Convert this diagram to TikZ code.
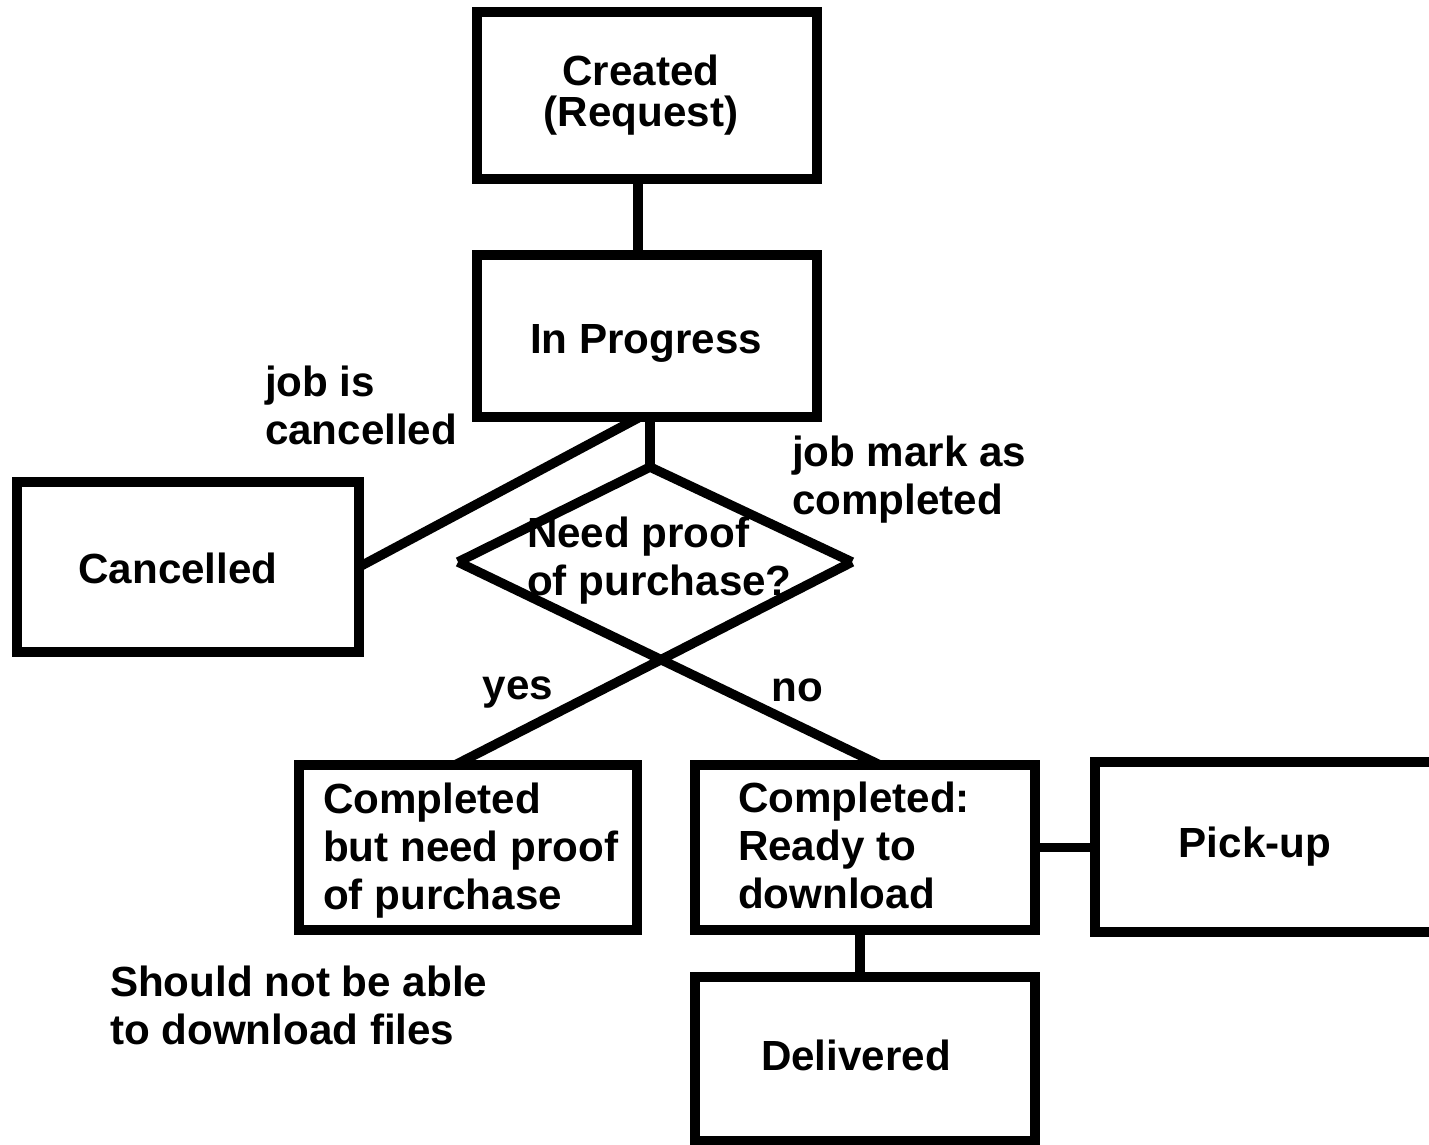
\documentclass[tikz,border=0pt]{standalone}
\usepackage{fontspec}
\setmainfont{Liberation Sans}
\usetikzlibrary{calc}
\begin{document}
\begin{tikzpicture}[x=0.02cm,y=-0.02cm,
  box/.style={draw=black,line width=5.4pt,inner sep=0pt,outer sep=0pt,rectangle},
  conn/.style={draw=black,line width=5.4pt},
  txt/.style={inner sep=0pt,outer sep=0pt,font=\bfseries\fontsize{24}{27.3}\selectfont,text=black},
  ltxt/.style={txt,align=left,anchor=west},
  ctxt/.style={txt,align=center}]
\useasboundingbox (0,0) rectangle (1429,1145);
% boxes
\node[box,minimum width=6.8cm,minimum height=3.34cm] (created) at (647,95.5) {};
\node[box,minimum width=6.8cm,minimum height=3.24cm] (progress) at (647,336) {};
\node[box,minimum width=6.84cm,minimum height=3.4cm] (cancelled) at (188,567) {};
\node[box,minimum width=6.76cm,minimum height=3.3cm] (proofbox) at (468,847.5) {};
\node[box,minimum width=6.8cm,minimum height=3.3cm] (ready) at (865,847.5) {};
\node[box,minimum width=8.1cm,minimum height=3.4cm] (pickup) at (1297.5,847) {};
\node[box,minimum width=6.8cm,minimum height=3.28cm] (delivered) at (865,1059) {};
% diamond points
\coordinate (dtop) at (650,467);
\coordinate (dleft) at (458,562);
\coordinate (dright) at (852,562);
% texts
\node[ctxt] (tcreated) at (641,95) {Created\\[-0.13cm](Request)};
\node[ctxt] (tprogress) at (646,343) {In Progress};
\node[ltxt] (tjobc) at (265,405) {job is\\cancelled};
\node[ltxt] (tjobm) at (792,480) {job mark as\\completed};
\node[ltxt] (tneed) at (527,561) {Need proof\\of purchase?};
\node[ctxt] (tcancelled) at (178,568) {Cancelled};
\node[ctxt] (tyes) at (518,693) {yes};
\node[ctxt] (tno) at (797,690) {no};
\node[ltxt] (tproof) at (323,851) {Completed\\but need proof\\of purchase};
\node[ltxt] (tready) at (738,845) {Completed:\\Ready to\\download};
\node[ctxt] (tpickup) at (1255,847) {Pick-up};
\node[ltxt] (tshould) at (110,1005) {Should not be able\\to download files};
\node[ctxt] (tdelivered) at (856,1055) {Delivered};
% connectors
\draw[conn] (638,0 |- created.south) -- (638,0 |- progress.north);
\draw[conn] (640,0 |- progress.south) -- (cancelled.east);
\draw[conn] (650,0 |- progress.south) -- (dtop);
\draw[conn] (dleft) -- (dtop) -- (dright);
\draw[conn] (dleft) -- (880,0 |- ready.north);
\draw[conn] (dright) -- (455,0 |- proofbox.north);
\draw[conn] (860,0 |- ready.south) -- (860,0 |- delivered.north);
\draw[conn] (ready.east) -- (pickup.west |- ready.east);
\end{tikzpicture}
\end{document}
